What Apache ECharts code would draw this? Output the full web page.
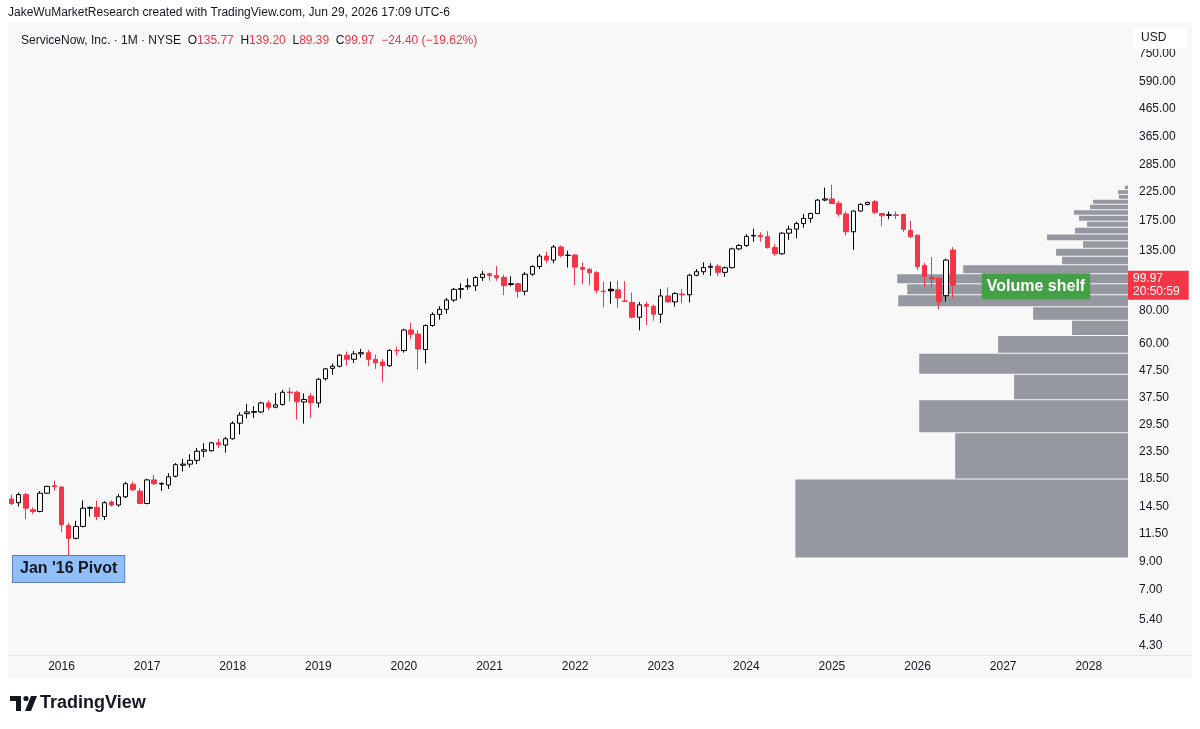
<!DOCTYPE html>
<html>
<head>
<meta charset="utf-8">
<title>ServiceNow 1M</title>
<script src="https://cdn.jsdelivr.net/npm/echarts@6.0.0/dist/echarts.min.js"></script>
<style>
  html, body { margin: 0; padding: 0; background: #ffffff; }
  #chart { width: 1200px; height: 729px; }
</style>
</head>
<body>
<div id="chart"></div>
<script>
// 月線範圍: 2015-06 起, 共 157 格 (到 2028-06)
var startYear = 2015, startMonth = 6, monthCount = 157;

// 每月 OHLC (2015-06 ~ 2026-06)
var opens = [
  15.5, 15.0, 16.1, 14.1, 13.9, 16.3, 17.4, 17.2, 12.3, 11.0,
  12.2, 14.3, 14.4, 13.3, 15.1, 14.7, 15.8, 17.6, 16.6, 14.9,
  18.3, 17.65, 17.5, 18.9, 20.8, 21.0, 21.7, 23.5, 23.6, 25.3,
  24.8, 26.2, 30.0, 32.6, 33.0, 33.1, 35.8, 34.5, 35.3, 39.4,
  39.3, 36.1, 38.0, 35.8, 44.2, 48.4, 49.3, 54.3, 52.4, 54.9,
  55.5, 52.3, 51.2, 49.5, 56.6, 56.5, 67.6, 65.3, 57.0, 70.3,
  77.5, 81.0, 87.8, 96.4, 98.6, 99.4, 106.9, 110.5, 108.7, 107.0,
  100.5, 101.3, 94.8, 110.0, 117.6, 128.8, 124.4, 139.5, 129.6, 130.0,
  116.5, 114.8, 111.4, 94.9, 96.5, 96.0, 87.1, 86.0, 75.6, 84.5,
  83.2, 77.6, 91.0, 86.4, 92.6, 91.9, 109.0, 112.4, 116.8, 118.0,
  111.8, 116.4, 137.2, 141.3, 153.5, 154.3, 152.5, 138.7, 131.4, 157.3,
  163.0, 171.0, 178.9, 186.6, 210.0, 212.0, 204.0, 186.0, 159.2, 190.8,
  202.2, 207.0, 186.6, 184.5, 184.5, 185.0, 161.1, 154.6, 118.7, 107.0,
  106.3, 91.2, 135.77
];
var highs = [
  16.1, 16.4, 16.3, 14.4, 16.6, 17.4, 18.2, 17.3, 12.6, 12.8,
  15.3, 14.5, 15.3, 15.2, 15.3, 16.2, 18.0, 18.0, 17.0, 18.5,
  19.1, 17.9, 19.4, 21.2, 22.0, 22.9, 24.2, 25.2, 25.5, 26.2,
  26.6, 30.5, 33.0, 35.5, 34.8, 36.2, 36.6, 39.1, 40.0, 40.9,
  39.8, 38.9, 39.0, 44.6, 48.6, 50.5, 54.8, 56.0, 56.4, 57.4,
  56.8, 54.6, 52.6, 57.2, 58.5, 68.4, 72.0, 67.5, 71.0, 78.8,
  83.2, 89.5, 97.5, 101.6, 106.0, 108.0, 113.0, 111.5, 118.0, 109.5,
  108.0, 102.0, 112.0, 119.0, 131.0, 134.0, 141.5, 141.5, 135.0, 131.0,
  122.0, 116.0, 113.0, 103.0, 103.0, 104.0, 103.5, 93.7, 86.3, 86.3,
  84.5, 96.6, 98.0, 94.0, 96.6, 110.5, 115.0, 122.0, 121.0, 120.0,
  117.5, 138.5, 143.0, 156.0, 163.5, 158.5, 160.0, 143.0, 158.5, 168.0,
  174.0, 186.0, 188.0, 212.0, 234.0, 240.0, 208.5, 190.0, 191.5, 204.0,
  207.0, 210.0, 187.5, 190.0, 190.0, 186.5, 175.0, 155.5, 121.5, 127.6,
  107.0, 126.0, 139.20
];
var lows = [
  14.7, 14.5, 13.0, 13.6, 13.8, 16.2, 16.7, 11.6, 9.3, 10.9,
  12.1, 13.3, 12.9, 12.9, 14.5, 14.5, 15.6, 16.6, 14.8, 14.8,
  17.5, 16.6, 16.9, 18.7, 19.7, 20.4, 21.0, 22.3, 23.4, 24.2,
  23.2, 26.0, 27.2, 31.3, 31.4, 32.8, 33.6, 34.2, 35.0, 36.3,
  31.0, 29.9, 31.5, 34.4, 43.5, 45.8, 48.8, 49.6, 50.8, 53.2,
  49.4, 48.2, 43.0, 49.0, 54.2, 55.5, 62.5, 47.8, 50.5, 69.6,
  74.0, 78.0, 86.5, 89.0, 96.0, 95.0, 103.6, 104.0, 104.0, 91.5,
  99.0, 89.5, 91.5, 108.5, 115.0, 121.5, 121.0, 127.5, 116.5, 100.0,
  101.0, 99.9, 93.0, 82.5, 85.0, 82.0, 86.3, 74.7, 67.4, 70.5,
  73.4, 72.0, 86.0, 83.0, 85.3, 86.0, 108.0, 109.5, 108.5, 108.0,
  107.5, 115.5, 135.5, 139.5, 146.0, 146.0, 137.5, 129.0, 130.5, 148.5,
  150.5, 165.0, 172.5, 186.0, 208.0, 203.0, 182.0, 154.0, 135.7, 190.0,
  200.5, 186.0, 167.0, 177.5, 178.0, 159.0, 151.0, 114.0, 98.7, 98.7,
  81.0, 86.6, 89.39
];
var closes = [
  14.9, 16.1, 14.3, 13.9, 16.3, 17.3, 17.25, 12.4, 11.0, 12.2,
  14.3, 14.4, 13.3, 15.0, 14.7, 15.8, 17.7, 16.8, 14.9, 18.3,
  17.7, 17.75, 18.8, 20.9, 21.0, 21.7, 23.5, 23.8, 25.3, 24.9,
  26.2, 30.0, 32.2, 33.1, 33.2, 35.8, 34.5, 35.2, 39.3, 39.1,
  36.2, 36.9, 35.9, 44.0, 48.2, 49.3, 54.3, 52.4, 54.9, 55.5,
  52.3, 50.8, 49.5, 56.6, 56.5, 67.6, 65.2, 57.3, 70.3, 77.5,
  81.0, 87.8, 96.4, 97.0, 99.4, 106.9, 110.0, 108.7, 106.6, 99.5,
  101.3, 94.8, 110.0, 117.6, 128.8, 124.4, 139.5, 129.6, 129.8, 117.0,
  114.8, 111.4, 95.6, 94.4, 95.1, 89.4, 86.8, 75.6, 84.2, 83.2,
  77.6, 91.0, 86.4, 92.9, 91.9, 109.0, 112.4, 116.6, 117.8, 111.8,
  116.4, 137.2, 141.3, 153.0, 154.3, 152.5, 138.7, 131.4, 157.3, 162.9,
  171.0, 178.9, 186.6, 209.8, 212.0, 203.7, 185.9, 159.2, 190.8, 202.2,
  205.6, 188.6, 183.0, 183.8, 183.5, 162.7, 152.3, 117.6, 108.0, 105.5,
  86.5, 124.37, 99.97
];

// 成交量分佈 (由下而上 25 列, 相對量)
var volumeRows = [333, 173, 209, 114, 209, 130, 56, 95, 230, 221, 231, 165, 66,
                  72, 45, 81, 53, 41, 49, 54, 38, 35, 9, 10, 3];

// 右側價格刻度
var priceTicks = [750, 590, 465, 365, 285, 225, 175, 135, 105, 80, 60, 47.5, 37.5,
                  29.5, 23.5, 18.5, 14.5, 11.5, 9, 7, 5.4, 4.3];

// 圖上註記
var pivotNote = { text: "Jan '16 Pivot", month: '2016-02', price: 8.42 };
var shelfNote = { text: 'Volume shelf', month: '2026-10', price: 99.0 };
var countdown = '20:50:59';

var paneBg = '#f8f8f8';
var upColor = '#000000';
var downColor = '#f23645';
var textColor = '#131722';
var font = 'Liberation Sans, Arial, sans-serif';

var months = [];
for (var k = 0; k < monthCount; k++) {
  var m = startMonth - 1 + k;
  var yy = startYear + Math.floor(m / 12);
  var mm = m % 12 + 1;
  months.push(yy + '-' + (mm < 10 ? '0' + mm : mm));
}

// 空心K線: 顏色看收盤對前收, 實心看收盤對開盤
var candleData = opens.map(function (o, i) {
  var c = closes[i];
  var prev = i > 0 ? closes[i - 1] : o;
  var col = c >= prev ? upColor : downColor;
  var fill = c < o ? col : paneBg;
  return {
    value: [o, c, lows[i], highs[i]],
    itemStyle: { color: fill, color0: fill, borderColor: col, borderColor0: col, borderWidth: 1 }
  };
});

var vpLow = Math.min.apply(null, lows);
var vpHigh = Math.max.apply(null, highs);
var vpStep = (vpHigh - vpLow) / volumeRows.length;
var vpData = volumeRows.map(function (v, i) {
  return [v, vpLow + i * vpStep, vpLow + (i + 1) * vpStep];
});
var vpMax = Math.max.apply(null, volumeRows) / 0.297;

var last = opens.length - 1;
var lastClose = closes[last];
var chg = lastClose - closes[last - 1];
var chgPct = chg / closes[last - 1] * 100;
function sign(v) { return (v < 0 ? '\u2212' : '+') + Math.abs(v).toFixed(2); }

var headerText = '{n|ServiceNow, Inc. \u00b7 1M \u00b7 NYSE}  '
  + '{k|O}{v|' + opens[last].toFixed(2) + '}  '
  + '{k|H}{v|' + highs[last].toFixed(2) + '}  '
  + '{k|L}{v|' + lows[last].toFixed(2) + '}  '
  + '{k|C}{v|' + lastClose.toFixed(2) + '}  '
  + '{v|' + sign(chg) + ' (' + sign(chgPct) + '%)}';

var myChart = echarts.init(document.getElementById('chart'));

var option = {
  animation: false,
  backgroundColor: '#ffffff',
  title: {
    left: 16, top: 30,
    text: headerText,
    textStyle: {
      fontSize: 12, fontWeight: 'normal', fontFamily: font,
      rich: {
        n: { color: textColor, fontSize: 12, fontFamily: font },
        k: { color: textColor, fontSize: 12, fontFamily: font },
        v: { color: downColor, fontSize: 12, fontFamily: font }
      }
    }
  },
  graphic: [
    { type: 'rect', z: -10, shape: { x: 8, y: 22, width: 1184, height: 656 }, style: { fill: paneBg } },
    { type: 'text', x: 8, y: 7, style: { text: 'JakeWuMarketResearch created with TradingView.com, Jun 29, 2026 17:09 UTC-6', font: '12px ' + font, fill: textColor } },
    { type: 'line', shape: { x1: 8, y1: 655.5, x2: 1192, y2: 655.5 }, style: { stroke: '#e0e3eb', lineWidth: 1 } },
    { type: 'rect', z: 50, shape: { x: 1133, y: 27, width: 54, height: 22, r: 4 }, style: { fill: '#ffffff' } },
    { type: 'text', z: 51, x: 1141, y: 32, style: { text: 'USD', font: '12px ' + font, fill: textColor } },
    // TradingView logo
    { type: 'rect', shape: { x: 10, y: 696, width: 11, height: 5 }, style: { fill: textColor } },
    { type: 'rect', shape: { x: 16, y: 696, width: 5, height: 15 }, style: { fill: textColor } },
    { type: 'circle', shape: { cx: 26, cy: 698.5, r: 2.6 }, style: { fill: textColor } },
    { type: 'polygon', shape: { points: [[31, 696], [37, 696], [31, 711], [25, 711]] }, style: { fill: textColor } },
    { type: 'text', x: 40, y: 694, style: { text: 'TradingView', font: 'bold 18px ' + font, fill: textColor } }
  ],
  grid: { left: 8, right: 72, top: 22, bottom: 74 },
  xAxis: [{
    type: 'category',
    data: months,
    axisLine: { show: false },
    axisTick: { show: false },
    splitLine: { show: false },
    axisLabel: {
      margin: 6,
      color: textColor, fontSize: 12, fontFamily: font,
      interval: function (index, value) { return value.slice(5) === '01'; },
      formatter: function (value) { return value.slice(0, 4); }
    }
  }, {
    type: 'value',
    position: 'top',
    inverse: true,
    min: 0,
    max: vpMax,
    show: false
  }],
  yAxis: {
    type: 'log',
    position: 'right',
    min: 3.977,
    max: 991.4,
    axisLine: { show: false },
    axisTick: { show: false },
    splitLine: { show: false },
    axisLabel: {
      customValues: priceTicks,
      margin: 11,
      color: textColor, fontSize: 12, fontFamily: font,
      formatter: function (v) { return Number(v).toFixed(2); }
    }
  },
  series: [{
    type: 'custom',
    name: 'Volume profile',
    xAxisIndex: 1,
    yAxisIndex: 0,
    z: 1,
    silent: true,
    encode: { x: 0, y: [1, 2] },
    data: vpData,
    renderItem: function (params, api) {
      var a = api.coord([0, api.value(1)]);
      var b = api.coord([api.value(0), api.value(2)]);
      return {
        type: 'rect',
        shape: { x: b[0], y: b[1] + 1, width: a[0] - b[0], height: a[1] - b[1] - 1 },
        style: { fill: '#9598a1' }
      };
    }
  }, {
    type: 'candlestick',
    name: 'NOW',
    xAxisIndex: 0,
    yAxisIndex: 0,
    z: 3,
    barWidth: 5,
    data: candleData,
    markLine: {
      silent: true,
      symbol: ['none', 'none'],
      lineStyle: { color: 'rgba(0,0,0,0)', width: 0 },
      label: {
        position: 'end', distance: 0,
        formatter: lastClose.toFixed(2) + '\n' + countdown,
        backgroundColor: downColor, color: '#ffffff',
        fontSize: 12, fontFamily: font, lineHeight: 13,
        padding: [2, 9, 1, 5]
      },
      data: [{ yAxis: lastClose }]
    },
    markPoint: {
      silent: true,
      symbol: 'rect',
      symbolSize: 1,
      itemStyle: { color: 'rgba(0,0,0,0)' },
      data: [{
        coord: [pivotNote.month, pivotNote.price],
        label: {
          show: true, position: 'inside', formatter: pivotNote.text,
          color: textColor, fontSize: 16, fontWeight: 'bold', fontFamily: font,
          backgroundColor: '#90bff9', borderColor: '#5b7fb0', borderWidth: 1,
          padding: [4, 7], lineHeight: 18
        }
      }, {
        coord: [shelfNote.month, shelfNote.price],
        label: {
          show: true, position: 'inside', align: 'left', formatter: shelfNote.text,
          color: '#ffffff', fontSize: 16, fontWeight: 'bold', fontFamily: font,
          backgroundColor: '#43a047', padding: [4, 5], lineHeight: 18
        }
      }]
    }
  }]
};

myChart.setOption(option);
</script>
</body>
</html>
